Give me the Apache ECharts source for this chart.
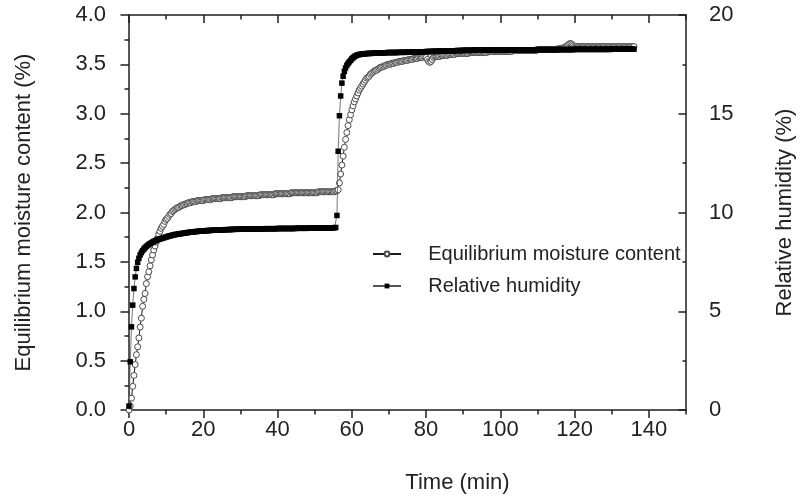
<!DOCTYPE html>
<html>
<head>
<meta charset="utf-8">
<script src="https://cdn.jsdelivr.net/npm/echarts@6/dist/echarts.min.js"></script>
<style>
  html, body { margin: 0; padding: 0; background: #ffffff; }
  #chart { width: 804px; height: 501px; }
</style>
</head>
<body>
<div id="chart"></div>
<script>
// Logger interval: one reading every 20 s
const SAMPLE_STEP_MIN = 1 / 3;

// Equilibrium moisture content (%), one line = 5 minutes of readings
const emcPercent = [
  0.00, 0.04, 0.12, 0.24, 0.35, 0.46, 0.56, 0.64, 0.73, 0.84, 0.93, 1.05, 1.12, 1.18, 1.28,
  1.35, 1.40, 1.46, 1.52, 1.57, 1.62, 1.66, 1.70, 1.74, 1.78, 1.81, 1.84, 1.86, 1.88, 1.91,
  1.93, 1.94, 1.96, 1.98, 1.99, 2.01, 2.02, 2.03, 2.04, 2.05, 2.05, 2.06, 2.07, 2.07, 2.08,
  2.08, 2.09, 2.09, 2.10, 2.10, 2.10, 2.11, 2.11, 2.11, 2.11, 2.12, 2.12, 2.12, 2.12, 2.12,
  2.12, 2.13, 2.13, 2.13, 2.13, 2.13, 2.13, 2.14, 2.14, 2.14, 2.14, 2.14, 2.14, 2.14, 2.14,
  2.15, 2.15, 2.15, 2.15, 2.15, 2.15, 2.15, 2.15, 2.15, 2.16, 2.16, 2.16, 2.16, 2.16, 2.16,
  2.16, 2.16, 2.16, 2.16, 2.16, 2.17, 2.17, 2.17, 2.17, 2.17, 2.17, 2.17, 2.17, 2.17, 2.17,
  2.17, 2.18, 2.18, 2.18, 2.18, 2.18, 2.18, 2.18, 2.18, 2.18, 2.18, 2.18, 2.18, 2.19, 2.19,
  2.19, 2.19, 2.19, 2.19, 2.19, 2.19, 2.19, 2.19, 2.19, 2.19, 2.19, 2.20, 2.20, 2.20, 2.20,
  2.20, 2.20, 2.20, 2.20, 2.20, 2.20, 2.20, 2.20, 2.20, 2.20, 2.20, 2.20, 2.20, 2.20, 2.20,
  2.20, 2.20, 2.20, 2.21, 2.21, 2.21, 2.21, 2.21, 2.21, 2.21, 2.21, 2.21, 2.21, 2.21, 2.21,
  2.21, 2.21, 2.22, 2.22, 2.23, 2.30, 2.39, 2.48, 2.57, 2.66, 2.74, 2.81, 2.88, 2.94, 2.99,
  3.04, 3.08, 3.12, 3.15, 3.18, 3.21, 3.24, 3.26, 3.28, 3.30, 3.32, 3.34, 3.36, 3.37, 3.38,
  3.40, 3.41, 3.42, 3.43, 3.44, 3.44, 3.45, 3.46, 3.47, 3.47, 3.48, 3.48, 3.49, 3.49, 3.50,
  3.50, 3.50, 3.51, 3.51, 3.51, 3.52, 3.52, 3.52, 3.53, 3.53, 3.53, 3.53, 3.54, 3.54, 3.54,
  3.54, 3.55, 3.55, 3.55, 3.55, 3.56, 3.56, 3.56, 3.56, 3.57, 3.57, 3.57, 3.57, 3.58, 3.58,
  3.57, 3.55, 3.53, 3.52, 3.53, 3.55, 3.57, 3.58, 3.58, 3.58, 3.58, 3.58, 3.59, 3.59, 3.59,
  3.59, 3.59, 3.59, 3.60, 3.60, 3.60, 3.60, 3.60, 3.60, 3.61, 3.61, 3.61, 3.61, 3.61, 3.61,
  3.61, 3.61, 3.61, 3.61, 3.61, 3.62, 3.62, 3.62, 3.62, 3.62, 3.62, 3.62, 3.62, 3.62, 3.62,
  3.62, 3.62, 3.62, 3.62, 3.62, 3.63, 3.63, 3.63, 3.63, 3.63, 3.63, 3.63, 3.63, 3.63, 3.63,
  3.63, 3.63, 3.63, 3.63, 3.63, 3.63, 3.63, 3.63, 3.63, 3.63, 3.64, 3.64, 3.64, 3.64, 3.64,
  3.64, 3.64, 3.64, 3.64, 3.64, 3.64, 3.64, 3.64, 3.64, 3.64, 3.64, 3.64, 3.64, 3.64, 3.64,
  3.65, 3.65, 3.65, 3.65, 3.65, 3.65, 3.65, 3.65, 3.65, 3.65, 3.65, 3.65, 3.65, 3.65, 3.65,
  3.65, 3.65, 3.66, 3.66, 3.66, 3.66, 3.67, 3.67, 3.68, 3.69, 3.70, 3.71, 3.71, 3.70, 3.69,
  3.68, 3.68, 3.68, 3.68, 3.68, 3.68, 3.68, 3.68, 3.68, 3.68, 3.68, 3.68, 3.68, 3.68, 3.68,
  3.68, 3.68, 3.68, 3.68, 3.68, 3.68, 3.68, 3.68, 3.68, 3.68, 3.68, 3.68, 3.68, 3.68, 3.68,
  3.68, 3.68, 3.68, 3.68, 3.68, 3.68, 3.68, 3.68, 3.68, 3.68, 3.68, 3.68, 3.68, 3.68, 3.68,
  3.68, 3.68, 3.68, 3.68
];

// Relative humidity (%), same sampling
const rhPercent = [
  0.20, 2.44, 4.21, 5.31, 6.15, 6.74, 7.17, 7.48, 7.68, 7.85, 7.97, 8.07, 8.15, 8.22, 8.28,
  8.33, 8.38, 8.42, 8.46, 8.50, 8.53, 8.56, 8.59, 8.62, 8.64, 8.66, 8.68, 8.70, 8.72, 8.74,
  8.76, 8.78, 8.80, 8.82, 8.83, 8.85, 8.86, 8.88, 8.89, 8.90, 8.91, 8.92, 8.93, 8.94, 8.95,
  8.96, 8.97, 8.98, 8.99, 9.00, 9.00, 9.01, 9.02, 9.03, 9.03, 9.04, 9.05, 9.05, 9.06, 9.06,
  9.07, 9.07, 9.08, 9.08, 9.09, 9.09, 9.09, 9.10, 9.10, 9.10, 9.11, 9.11, 9.11, 9.12, 9.12,
  9.12, 9.12, 9.13, 9.13, 9.13, 9.13, 9.14, 9.14, 9.14, 9.14, 9.15, 9.15, 9.15, 9.15, 9.15,
  9.16, 9.16, 9.16, 9.16, 9.16, 9.16, 9.16, 9.16, 9.17, 9.17, 9.17, 9.17, 9.17, 9.17, 9.17,
  9.17, 9.17, 9.17, 9.17, 9.17, 9.18, 9.18, 9.18, 9.18, 9.18, 9.18, 9.18, 9.18, 9.18, 9.18,
  9.19, 9.19, 9.19, 9.19, 9.19, 9.19, 9.19, 9.19, 9.19, 9.19, 9.19, 9.19, 9.19, 9.19, 9.19,
  9.20, 9.20, 9.20, 9.20, 9.20, 9.20, 9.20, 9.20, 9.20, 9.20, 9.21, 9.21, 9.21, 9.21, 9.21,
  9.21, 9.21, 9.21, 9.21, 9.21, 9.22, 9.22, 9.22, 9.22, 9.22, 9.22, 9.22, 9.22, 9.22, 9.22,
  9.23, 9.23, 9.24, 9.85, 13.10, 14.90, 15.90, 16.55, 16.90, 17.15, 17.32, 17.45, 17.55, 17.63, 17.70,
  17.78, 17.84, 17.89, 17.93, 17.96, 17.98, 18.00, 18.01, 18.02, 18.03, 18.04, 18.04, 18.05, 18.05, 18.05,
  18.06, 18.06, 18.06, 18.07, 18.07, 18.07, 18.08, 18.08, 18.08, 18.08, 18.09, 18.09, 18.09, 18.09, 18.10,
  18.10, 18.10, 18.10, 18.10, 18.10, 18.10, 18.10, 18.10, 18.11, 18.11, 18.11, 18.11, 18.11, 18.11, 18.11,
  18.12, 18.12, 18.12, 18.12, 18.12, 18.12, 18.12, 18.12, 18.13, 18.13, 18.13, 18.13, 18.14, 18.14, 18.14,
  18.15, 18.15, 18.15, 18.15, 18.15, 18.16, 18.16, 18.16, 18.16, 18.16, 18.17, 18.17, 18.17, 18.17, 18.17,
  18.18, 18.18, 18.18, 18.18, 18.18, 18.19, 18.19, 18.19, 18.19, 18.19, 18.20, 18.20, 18.20, 18.20, 18.20,
  18.21, 18.21, 18.21, 18.21, 18.21, 18.21, 18.21, 18.21, 18.22, 18.22, 18.22, 18.22, 18.22, 18.22, 18.22,
  18.22, 18.22, 18.22, 18.22, 18.22, 18.22, 18.22, 18.22, 18.23, 18.23, 18.23, 18.23, 18.23, 18.23, 18.23,
  18.23, 18.23, 18.23, 18.23, 18.23, 18.24, 18.24, 18.24, 18.24, 18.24, 18.24, 18.24, 18.24, 18.24, 18.24,
  18.24, 18.24, 18.24, 18.24, 18.24, 18.24, 18.24, 18.24, 18.24, 18.24, 18.24, 18.24, 18.24, 18.24, 18.24,
  18.25, 18.25, 18.25, 18.25, 18.25, 18.25, 18.25, 18.25, 18.25, 18.25, 18.25, 18.25, 18.25, 18.25, 18.25,
  18.25, 18.25, 18.25, 18.25, 18.25, 18.25, 18.25, 18.25, 18.25, 18.25, 18.25, 18.25, 18.25, 18.25, 18.25,
  18.26, 18.26, 18.26, 18.26, 18.26, 18.26, 18.26, 18.26, 18.26, 18.26, 18.26, 18.26, 18.26, 18.26, 18.26,
  18.26, 18.26, 18.26, 18.26, 18.26, 18.26, 18.26, 18.26, 18.26, 18.26, 18.26, 18.26, 18.26, 18.26, 18.26,
  18.27, 18.27, 18.27, 18.27, 18.27, 18.27, 18.27, 18.27, 18.27, 18.27, 18.27, 18.27, 18.27, 18.27, 18.27,
  18.27, 18.27, 18.27, 18.27
];

// Axis ticks and labels
const timeTicks = [0, 20, 40, 60, 80, 100, 120, 140];
const timeMinorTicks = [10, 30, 50, 70, 90, 110, 130, 150];
const emcTicks = [0, 0.5, 1.0, 1.5, 2.0, 2.5, 3.0, 3.5, 4.0];
const emcMinorTicks = [0.25, 0.75, 1.25, 1.75, 2.25, 2.75, 3.25, 3.75];
const rhTicks = [0, 5, 10, 15, 20];
const rhMinorTicks = [2.5, 7.5, 12.5, 17.5];

const seriesNames = ['Equilibrium moisture content', 'Relative humidity'];

const FONT = '"Liberation Sans", Arial, Helvetica, sans-serif';
const INK = '#1f1f1f';
const TEXT = '#222222';
const TICK_FONT = 22;
const TITLE_FONT = 22;

const toPoints = (values) => values.map((v, i) => [i * SAMPLE_STEP_MIN, v]);

// Frame / tick axis builder: every side of the box is drawn as its own axis
function tickAxis(opts) {
  return Object.assign({
    type: 'value',
    gridIndex: 0,
    axisLine: { show: false, onZero: false, lineStyle: { color: INK, width: 1.5 } },
    axisTick: { show: true, inside: false, length: 8, lineStyle: { color: INK, width: 1.5 } },
    axisLabel: { show: false },
    splitLine: { show: false },
    minorTick: { show: false },
    minorSplitLine: { show: false }
  }, opts);
}

const chart = echarts.init(document.getElementById('chart'), null, { renderer: 'canvas' });

chart.setOption({
  animation: false,
  backgroundColor: '#ffffff',
  grid: { left: 129, right: 110, top: 15, bottom: 91, containLabel: false },
  legend: {
    orient: 'vertical',
    left: 367,
    top: 239,
    itemWidth: 28,
    itemHeight: 6,
    itemGap: 12,
    data: seriesNames,
    formatter: (name) => '    ' + name,
    textStyle: { fontFamily: FONT, fontSize: 20, color: TEXT },
    selectedMode: false
  },
  xAxis: [
    tickAxis({
      position: 'bottom', min: 0, max: 150,
      name: 'Time (min)', nameLocation: 'middle', nameGap: 62,
      nameTextStyle: { fontFamily: FONT, fontSize: TITLE_FONT, color: TEXT, padding: [0, 0, 0, 100] },
      axisLine: { show: true, onZero: false, lineStyle: { color: INK, width: 1.5 } },
      axisTick: { show: true, inside: false, length: 8, customValues: timeTicks, lineStyle: { color: INK, width: 1.5 } },
      axisLabel: { show: true, customValues: timeTicks, margin: 9, fontFamily: FONT, fontSize: TICK_FONT, color: TEXT }
    }),
    tickAxis({
      position: 'bottom', min: 0, max: 150,
      axisTick: { show: true, inside: false, length: 4.5, customValues: timeMinorTicks, lineStyle: { color: INK, width: 1.5 } }
    }),
    tickAxis({
      position: 'top', min: 0, max: 150,
      axisLine: { show: true, onZero: false, lineStyle: { color: INK, width: 1.5 } },
      axisTick: { show: true, inside: true, length: 8, customValues: timeTicks, lineStyle: { color: INK, width: 1.5 } }
    }),
    tickAxis({
      position: 'top', min: 0, max: 150,
      axisTick: { show: true, inside: true, length: 4.5, customValues: timeMinorTicks, lineStyle: { color: INK, width: 1.5 } }
    })
  ],
  yAxis: [
    tickAxis({
      position: 'left', min: 0, max: 4,
      name: 'Equilibrium moisture content (%)', nameLocation: 'middle', nameGap: 94,
      nameTextStyle: { fontFamily: FONT, fontSize: TITLE_FONT, color: TEXT },
      axisLine: { show: true, onZero: false, lineStyle: { color: INK, width: 1.5 } },
      axisTick: { show: true, inside: false, length: 8.5, customValues: emcTicks, lineStyle: { color: INK, width: 1.5 } },
      axisLabel: { show: true, customValues: emcTicks, margin: 23, fontFamily: FONT, fontSize: TICK_FONT, color: TEXT,
                   formatter: (v) => Number(v).toFixed(1) }
    }),
    tickAxis({
      position: 'right', min: 0, max: 20,
      name: 'Relative humidity (%)', nameLocation: 'middle', nameGap: 88,
      nameTextStyle: { fontFamily: FONT, fontSize: TITLE_FONT, color: TEXT },
      axisLine: { show: true, onZero: false, lineStyle: { color: INK, width: 1.5 } },
      axisTick: { show: true, inside: true, length: 7.5, customValues: rhTicks, lineStyle: { color: INK, width: 1.5 } },
      axisLabel: { show: true, customValues: rhTicks, margin: 23, fontFamily: FONT, fontSize: TICK_FONT, color: TEXT }
    }),
    tickAxis({
      position: 'left', min: 0, max: 4,
      axisTick: { show: true, inside: false, length: 4.5, customValues: emcMinorTicks, lineStyle: { color: INK, width: 1.5 } }
    }),
    tickAxis({
      position: 'right', min: 0, max: 20,
      axisTick: { show: true, inside: true, length: 3.5, customValues: rhMinorTicks, lineStyle: { color: INK, width: 1.5 } }
    })
  ],
  series: [
    {
      name: seriesNames[0],
      type: 'line',
      xAxisIndex: 0,
      yAxisIndex: 0,
      data: toPoints(emcPercent),
      symbol: 'circle',
      symbolSize: 6,
      showSymbol: true,
      itemStyle: { color: '#ffffff', borderColor: '#4a4a4a', borderWidth: 1 },
      lineStyle: { color: '#1a1a1a', width: 1 },
      emphasis: { disabled: true },
      z: 2
    },
    {
      name: seriesNames[1],
      type: 'line',
      xAxisIndex: 0,
      yAxisIndex: 1,
      data: toPoints(rhPercent),
      symbol: 'rect',
      symbolSize: 5.5,
      showSymbol: true,
      itemStyle: { color: '#000000' },
      lineStyle: { color: '#555555', width: 0.8 },
      emphasis: { disabled: true },
      z: 3
    }
  ]
});
</script>
</body>
</html>
